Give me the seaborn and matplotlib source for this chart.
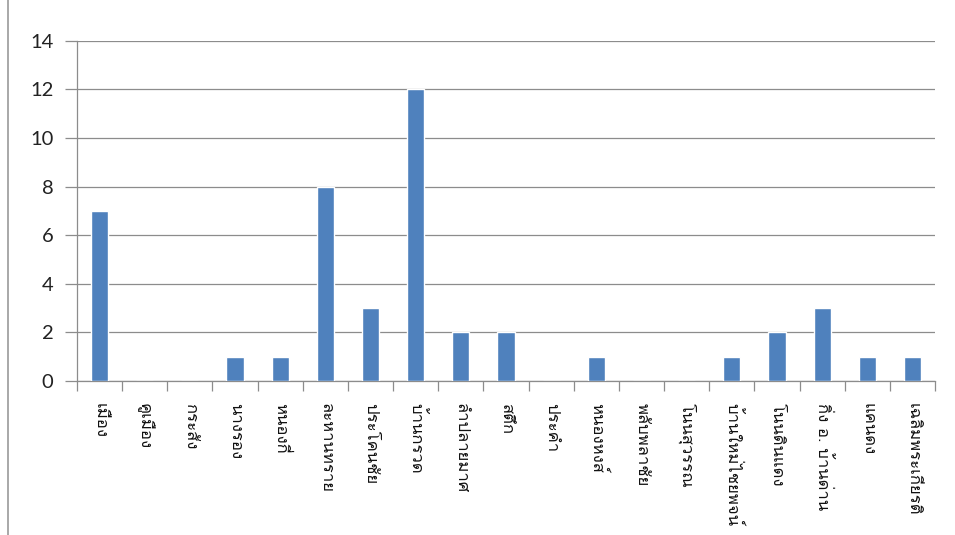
import matplotlib
matplotlib.use("Agg")
import matplotlib.pyplot as plt
from matplotlib import font_manager
from matplotlib.lines import Line2D
import seaborn as sns
import pandas as pd

districts = ["เมือง", "คูเมือง", "กระสัง", "นางรอง", "หนองกี่", "ละหานทราย", "ประโคนชัย",
             "บ้านกรวด", "ลำปลายมาศ", "สตึก", "ประคำ", "หนองหงส์", "พลับพลาชัย", "โนนสุวรรณ",
             "บ้านใหม่ไชยพจน์", "โนนดินแดง", "กิ่ง อ. บ้านด่าน", "แคนดง", "เฉลิมพระเกียรติ"]
counts = [7, 0, 0, 1, 1, 8, 3, 12, 2, 2, 0, 1, 0, 0, 1, 2, 3, 1, 1]
yticks = [0, 2, 4, 6, 8, 10, 12, 14]

# find a font with Thai glyphs
thai_font = None
try:
    from fontTools.ttLib import TTFont
    for fe in font_manager.fontManager.ttflist:
        try:
            f = TTFont(fe.fname, fontNumber=0, lazy=True)
            cmap = f.getBestCmap()
            if cmap and 0x0E01 in cmap and 0x0E40 in cmap:
                thai_font = fe.name
                break
        except Exception:
            pass
except Exception:
    pass

sns.set_theme(style="white")
families = ([thai_font] if thai_font else []) + ["DejaVu Sans"]
plt.rcParams['font.family'] = families

df = pd.DataFrame({"district": districts, "count": counts})

fig = plt.figure(figsize=(9.55, 5.35), dpi=100)
ax = fig.add_axes([77/955, 1-381/535, (935-77)/955, (381-40.7)/535])

sns.barplot(data=df, x="district", y="count", color="#4F81BD", saturation=1,
            width=0.38, ax=ax, zorder=3)

ax.set_ylim(0, 14)
ax.set_xlim(-0.5, len(districts) - 0.5)
ax.set_yticks(yticks)
ax.set_yticklabels([str(v) for v in yticks], fontsize=14.5, color="#222222",
                   family=["Lato", "DejaVu Sans"])
ax.yaxis.grid(True, color="#8c8c8c", linewidth=0.9, zorder=0)
ax.set_axisbelow(True)
ax.set_xlabel("")
ax.set_ylabel("")

for s in ["top", "right"]:
    ax.spines[s].set_visible(False)
ax.spines["left"].set_color("#8c8c8c")
ax.spines["bottom"].set_color("#8c8c8c")
ax.spines["left"].set_linewidth(0.9)
ax.spines["bottom"].set_linewidth(0.9)

ax.tick_params(axis="y", which="both", left=True, length=9, width=0.9, color="#8c8c8c", pad=8)
# category boundary ticks
ax.set_xticks([i - 0.5 for i in range(len(districts) + 1)], minor=False)
ax.set_xticklabels([])
ax.tick_params(axis="x", which="major", bottom=True, length=7, width=0.9, color="#8c8c8c")
ax.set_xticks(range(len(districts)), minor=True)
ax.set_xticklabels(districts, minor=True, rotation=-90, fontsize=12, color="#111111",
                   va="top", ha="center")
ax.tick_params(axis="x", which="minor", length=0, pad=16)

fig.add_artist(Line2D([8/955, 8/955], [0, 1], transform=fig.transFigure,
                      color="#9a9a9a", linewidth=1.2))

fig.savefig("out.png", dpi=100)
